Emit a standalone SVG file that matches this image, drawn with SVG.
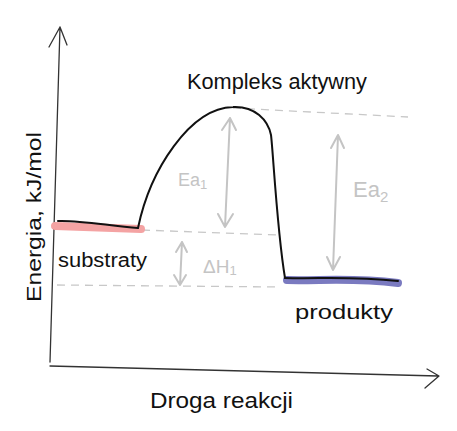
<svg xmlns="http://www.w3.org/2000/svg" width="457" height="431" viewBox="0 0 457 431">
<style>
.axis{stroke:#333;stroke-width:1.3;fill:none;stroke-linecap:round;stroke-linejoin:round}
.curve{stroke:#111;stroke-width:2;fill:none;stroke-linecap:round;stroke-linejoin:round}
.dash{stroke:#c8c8c8;stroke-width:1.3;fill:none;stroke-dasharray:8 6}
.garrow{stroke:#c4c4c4;stroke-width:2;fill:none;stroke-linecap:round;stroke-linejoin:round}
.lbl{font-family:"Liberation Sans",Arial,sans-serif;fill:#111}
.glbl{font-family:"Liberation Sans",Arial,sans-serif;fill:#c4c4c4}
</style>
<rect width="457" height="431" fill="#fff"/>
<g id="axes">
<path class="axis" d="M50,362 L60,27 M49,47 L60,27 L67,45"/>
<path class="axis" d="M50,366 L438,376 M427,369 L439,376 L425,388"/>
</g>
<g id="guides">
<path class="dash" d="M233,108 L408,117"/>
<path class="dash" d="M142,230 L280,235"/>
<path class="dash" d="M57,285 L280,287"/>
</g>
<g id="substraty">
<path d="M55,226 L141,229" stroke="#f4a3a3" stroke-width="8" stroke-linecap="round" fill="none"/>
<path class="curve" d="M58,221 C80,220 110,226 138,228"/>
<text class="lbl" x="58" y="267" font-size="20" textLength="89" lengthAdjust="spacingAndGlyphs">substraty</text>
</g>
<g id="produkty">
<path d="M287,280 C320,281 350,277 398,283" stroke="#7a7ac0" stroke-width="8" stroke-linecap="round" fill="none"/>
<path class="curve" d="M285,278 C320,279 350,276 398,281"/>
<text class="lbl" x="295" y="319" font-size="21" textLength="98" lengthAdjust="spacingAndGlyphs">produkty</text>
</g>
<g id="kompleks">
<text class="lbl" x="187" y="89" font-size="22" textLength="180" lengthAdjust="spacingAndGlyphs">Kompleks aktywny</text>
</g>
<g id="connectors">
<path class="curve" d="M138,228 C150,170 190,108 233,107 C255,106 268,120 271,135 C273,150 277,230 285,278"/>
<path class="garrow" d="M230,118 L225,227 M222,130 L230,118 L236,130 M218,214 L225,227 L233,214"/>
<path class="garrow" d="M338,135 L333,270 M331,148 L338,135 L344,148 M327,257 L333,270 L340,257"/>
<path class="garrow" d="M182,242 L180,285 M176,252 L182,242 L187,252 M174,275 L180,285 L186,275"/>
</g>
<g id="labels">
<text class="glbl" x="178" y="186" font-size="18">Ea<tspan font-size="13" dy="3">1</tspan></text>
<text class="glbl" x="353" y="197" font-size="22">Ea<tspan font-size="15" dy="5">2</tspan></text>
<text class="glbl" x="203" y="273" font-size="19">ΔH<tspan font-size="13" dy="2">1</tspan></text>
<text class="lbl" x="150" y="408" font-size="22" textLength="143" lengthAdjust="spacingAndGlyphs">Droga reakcji</text>
<text class="lbl" transform="translate(41,217) rotate(-90)" text-anchor="middle" font-size="21" textLength="170" lengthAdjust="spacingAndGlyphs">Energia, kJ/mol</text>
</g>
</svg>
